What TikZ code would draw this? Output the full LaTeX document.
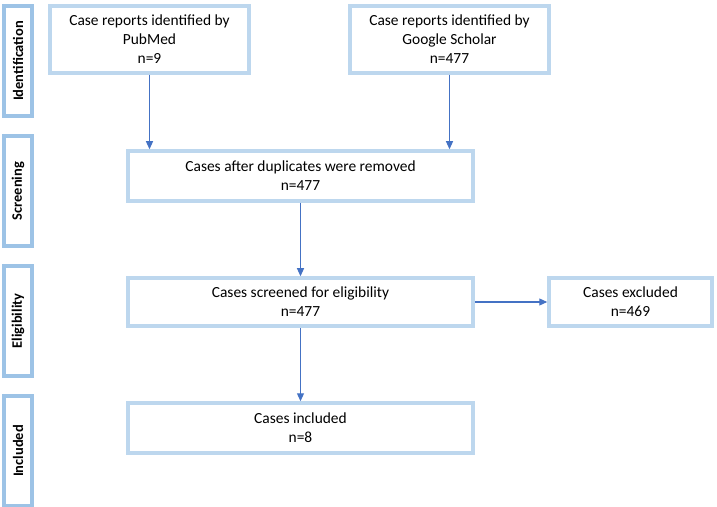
\documentclass[tikz,border=0pt]{standalone}
\usepackage{fontspec}
\setmainfont{Carlito}
\usepackage{tikz}
\usetikzlibrary{arrows.meta, positioning, calc}

\definecolor{boxblue}{HTML}{BDD7EE}
\definecolor{stageblue}{HTML}{9DC3E6}
\definecolor{arrowblue}{HTML}{4472C4}

\begin{document}
\begin{tikzpicture}[x=1bp, y=-1bp,
  casebox/.style={draw=boxblue, line width=3.5bp, fill=white, align=center,
    font=\fontsize{15.5}{19}\selectfont, inner sep=2bp},
  stagebox/.style={draw=stageblue, line width=4bp, fill=white, rotate=90,
    minimum width=110bp, minimum height=28bp, inner sep=0pt,
    font=\fontsize{14.5}{16}\selectfont\bfseries},
  flowarrow/.style={draw=arrowblue, line width=1.1bp, -{Triangle[length=8bp, width=7bp]}}]
\useasboundingbox (0,0) rectangle (717,507);

% stages on the left
\node[stagebox] (ident) at (18,61) {Identification};
\node[stagebox] (screen) at (18,191) {Screening};
\node[stagebox] (elig) at (18,321) {Eligibility};
\node[stagebox] (incl) at (18,451) {Included};

% case boxes
\node[casebox, minimum width=199bp, minimum height=67bp] (pubmed) at (149.5,39.5)
  {Case reports identified by\\PubMed\\n=9};
\node[casebox, minimum width=199bp, minimum height=67bp] (scholar) at (449.5,39.5)
  {Case reports identified by\\Google Scholar\\n=477};
\node[casebox, minimum width=345bp, minimum height=50bp] (dupl) at (300.5,176)
  {Cases after duplicates were removed\\n=477};
\node[casebox, minimum width=345bp, minimum height=48bp] (screened) at (300.5,302)
  {Cases screened for eligibility\\n=477};
\node[casebox, minimum width=163bp, minimum height=48bp] (excluded) at (630.5,302)
  {Cases excluded\\n=469};
\node[casebox, minimum width=345bp, minimum height=50bp] (included) at (300.5,428)
  {Cases included\\n=8};

% arrows
\draw[flowarrow] (pubmed.south) -- (pubmed.south |- dupl.north);
\draw[flowarrow] (scholar.south) -- (scholar.south |- dupl.north);
\draw[flowarrow] (dupl.south) -- (screened.north);
\draw[flowarrow] (screened.east) -- (excluded.west);
\draw[flowarrow] (screened.south) -- (included.north);
\end{tikzpicture}
\end{document}
